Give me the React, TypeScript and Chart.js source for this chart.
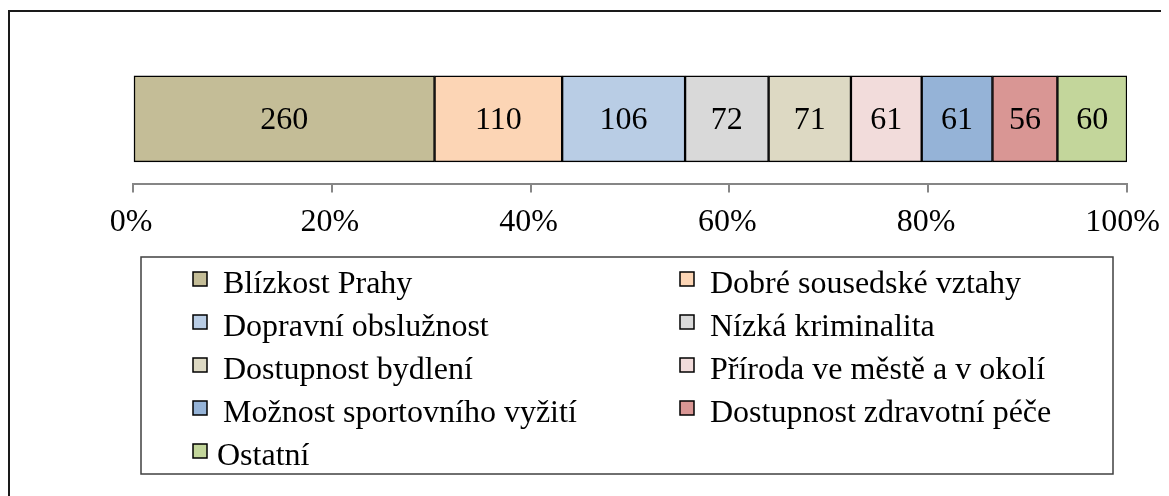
import React, { useEffect, useRef } from "react";
import { Chart, registerables } from "chart.js";

Chart.register(...registerables);

const categories = [
  "Blízkost Prahy",
  "Dobré sousedské vztahy",
  "Dopravní obslužnost",
  "Nízká kriminalita",
  "Dostupnost bydlení",
  "Příroda ve městě a v okolí",
  "Možnost sportovního vyžití",
  "Dostupnost zdravotní péče",
  "Ostatní",
];
const counts = [260, 110, 106, 72, 71, 61, 61, 56, 60];
const colors = [
  "#C4BD97",
  "#FCD5B5",
  "#B9CDE5",
  "#D9D9D9",
  "#DDD9C3",
  "#F2DCDB",
  "#95B3D7",
  "#D99694",
  "#C3D69B",
];
const tickValues = [0, 20, 40, 60, 80, 100];
const tickLabels = ["0%", "20%", "40%", "60%", "80%", "100%"];

const FONT = "'Liberation Serif', 'Times New Roman', serif";
const FS = 32;

export default function App() {
  const ref = useRef<HTMLCanvasElement | null>(null);

  useEffect(() => {
    if (!ref.current) return;
    const total = counts.reduce((a, b) => a + b, 0);

    const framePlugin = {
      id: "frame",
      beforeDraw(chart: any) {
        const { ctx, width, height } = chart;
        ctx.save();
        ctx.fillStyle = "#fff";
        ctx.fillRect(0, 0, width, height);
        ctx.strokeStyle = "#1a1a1a";
        ctx.lineWidth = 2;
        ctx.beginPath();
        ctx.moveTo(1, height + 10);
        ctx.lineTo(1, 3);
        ctx.lineTo(width + 10, 3);
        ctx.stroke();
        ctx.restore();
      },
    };

    const valueLabels = {
      id: "valueLabels",
      afterDatasetsDraw(chart: any) {
        const { ctx } = chart;
        ctx.save();
        ctx.font = `${FS}px ${FONT}`;
        ctx.fillStyle = "#000";
        ctx.textAlign = "center";
        ctx.textBaseline = "middle";
        chart.data.datasets.forEach((ds: any, i: number) => {
          const meta = chart.getDatasetMeta(i);
          const el = meta.data[0];
          if (!el) return;
          const { x, base, y } = el.getProps(["x", "base", "y"], true);
          ctx.fillText(String(counts[i]), (x + base) / 2, y + 2);
        });
        ctx.restore();
      },
    };

    const axisLabels = {
      id: "axisLabels",
      afterDraw(chart: any) {
        const { ctx, width } = chart;
        const scale = chart.scales.x;
        ctx.save();
        ctx.font = `${FS}px ${FONT}`;
        ctx.fillStyle = "#000";
        ctx.textAlign = "center";
        ctx.textBaseline = "middle";
        tickValues.forEach((v, i) => {
          const text = tickLabels[i];
          const w = ctx.measureText(text).width;
          let cx = scale.getPixelForValue(v) - 2;
          const maxRight = width - 9;
          if (cx + w / 2 > maxRight) cx = maxRight - w / 2;
          ctx.fillText(text, cx, scale.top + 39);
        });
        ctx.restore();
      },
    };

    const boxLegend = {
      id: "boxLegend",
      afterDraw(chart: any) {
        const { ctx } = chart;
        const left = 133, top = 249, right = 1105, bottom = 466;
        ctx.save();
        ctx.strokeStyle = "#404040";
        ctx.lineWidth = 1.5;
        ctx.strokeRect(left, top, right - left, bottom - top);
        ctx.font = `${FS}px ${FONT}`;
        ctx.textBaseline = "middle";
        ctx.textAlign = "left";
        categories.forEach((name, i) => {
          const col = i % 2;
          const row = Math.floor(i / 2);
          const cy = 277 + row * 43;
          const my = cy - 6;
          const mx = col === 0 ? 185 : 672;
          const isLastAlone = i === categories.length - 1;
          const tx = col === 0 ? (isLastAlone ? 209 : 215) : 702;
          ctx.fillStyle = colors[i];
          ctx.fillRect(mx, my - 7, 14, 14);
          ctx.strokeStyle = "#000";
          ctx.lineWidth = 1.5;
          ctx.strokeRect(mx, my - 7, 14, 14);
          ctx.fillStyle = "#000";
          ctx.fillText(name, tx, cy);
        });
        ctx.restore();
      },
    };

    const chart = new Chart(ref.current, {
      type: "bar",
      data: {
        labels: [""],
        datasets: categories.map((name, i) => ({
          label: name,
          data: [(counts[i] / total) * 100],
          backgroundColor: colors[i],
          borderColor: "#000",
          borderWidth: 1.5,
          borderSkipped: false,
          barThickness: 86,
        })),
      },
      options: {
        indexAxis: "y",
        animation: false,
        responsive: true,
        maintainAspectRatio: false,
        layout: { padding: { left: 125, right: 42, top: 46, bottom: 237 } },
        scales: {
          x: {
            stacked: true,
            min: 0,
            max: 100,
            afterBuildTicks(scale: any) {
              scale.ticks = tickValues.map((v) => ({ value: v }));
            },
            afterFit(scale: any) {
              scale.paddingLeft = 0;
              scale.paddingRight = 0;
            },
            ticks: {
              callback: (v: any, i: number) => tickLabels[i] ?? `${v}%`,
              color: "rgba(0,0,0,0)",
              font: { family: FONT, size: FS },
              padding: 14,
              maxRotation: 0,
            },
            grid: {
              drawOnChartArea: false,
              drawTicks: true,
              tickLength: 9,
              color: "#868686",
              lineWidth: 2,
            },
            border: { display: true, color: "#868686", width: 2 },
          },
          y: { stacked: true, display: false },
        },
        plugins: { legend: { display: false }, tooltip: { enabled: false } },
      },
      plugins: [framePlugin, valueLabels, axisLabels, boxLegend],
    });
    return () => chart.destroy();
  }, []);

  return (
    <div style={{ position: "relative", width: 1161, height: 488 }}>
      <canvas ref={ref} />
    </div>
  );
}
